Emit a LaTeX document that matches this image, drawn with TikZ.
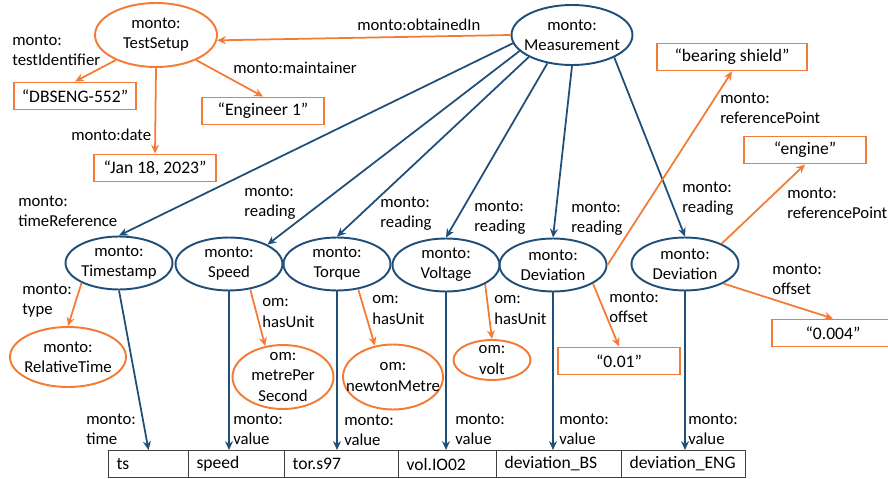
\documentclass[tikz,border=0pt]{standalone}
\usepackage{fontspec}
\setmainfont{Carlito}
\usetikzlibrary{shapes.geometric,arrows.meta}
\definecolor{navy}{HTML}{1F4E79}
\definecolor{orng}{HTML}{F47B35}
\tikzset{
  cls/.style={ellipse,draw=navy,line width=1.1pt,inner sep=-8pt,align=center,
    minimum width=2.14cm,minimum height=1.06cm},
  ocls/.style={ellipse,draw=orng,line width=1.1pt,inner sep=-8pt,align=center},
  lit/.style={rectangle,draw=orng,line width=1.1pt,minimum width=2.44cm,
    minimum height=0.54cm,inner sep=0pt,font=\fontsize{10}{12}\selectfont},
  lbl/.style={anchor=west,align=left,inner sep=0pt},
  cell/.style={rectangle,draw=black!75,line width=0.6pt,anchor=west,
    minimum height=0.54cm,inner ysep=0pt,inner xsep=0.16cm,align=left,
    font=\fontsize{10}{12}\selectfont},
  rel/.style={draw=navy,line width=1pt,-{Stealth[length=5pt,width=4.5pt]}},
  orel/.style={draw=orng,line width=1pt,-{Stealth[length=5pt,width=4.5pt]}}
}
\begin{document}
\begin{tikzpicture}[x=0.02cm,y=-0.02cm,font=\fontsize{9.5}{11.4}\selectfont]
  \useasboundingbox (0,0) rectangle (888,479);
  % classes and literals
  \node[ocls,minimum width=2.44cm,minimum height=1.28cm] (setup) at (156,35) {monto:\\TestSetup};
  \node[cls,minimum width=2.42cm,minimum height=1.2cm] (meas) at (572,35) {monto:\\Measurement};
  \node[lit] (testid) at (75,96) {“DBSENG-552”};
  \node[lit] (maint) at (263,111) {“Engineer 1”};
  \node[lit] (date) at (155,168) {“Jan 18, 2023”};
  \node[lit,minimum width=3cm] (bshield) at (732,57) {“bearing shield”};
  \node[lit] (engine) at (805,150) {“engine”};
  \node[cls] (tstamp) at (119,263) {monto:\\Timestamp};
  \node[cls] (speed) at (229,264) {monto:\\Speed};
  \node[cls] (torque) at (337,264) {monto:\\Torque};
  \node[cls] (voltage) at (446,265) {monto:\\Voltage};
  \node[cls] (devbs) at (553,265) {monto:\\Deviation};
  \node[cls] (deveng) at (685,264) {monto:\\Deviation};
  \node[ocls,minimum width=2.32cm,minimum height=1.2cm] (reltime) at (68,357) {monto:\\RelativeTime};
  \node[ocls,minimum width=2.02cm,minimum height=1.28cm] (mps) at (283,377) {om:\\metrePer\\Second};
  \node[ocls,minimum width=2cm,minimum height=1.3cm] (nm) at (393,377) {om:\\newtonMetre};
  \node[ocls,minimum width=1.54cm,minimum height=0.8cm] (volt) at (492,360) {om:\\volt};
  \node[lit] (offbs) at (619,361) {“0.01”};
  \node[lit] (offeng) at (833,333) {“0.004”};
  % table
  \node[cell,minimum width=1.6cm,text width=1.28cm] (tscol) at (108,464) {ts};
  \node[cell,minimum width=1.92cm,text width=1.6cm] (speedcol) at (188,464) {speed};
  \node[cell,minimum width=2.28cm,text width=1.96cm] (torcol) at (284,464) {tor.s97};
  \node[cell,minimum width=1.96cm,text width=1.64cm] (voltcol) at (398,464) {vol.IO02};
  \node[cell,minimum width=2.5cm,text width=2.18cm] (bscol) at (496,464) {deviation\_BS};
  \node[cell,minimum width=2.48cm,text width=2.16cm] (engcol) at (621,464) {deviation\_ENG};
  % edge labels
  \node[lbl] (lobt) at (357,25) {monto:obtainedIn};
  \node[lbl] (ltid) at (12,50) {monto:\\testIdentifier};
  \node[lbl] (lmaint) at (233,68) {monto:maintainer};
  \node[lbl] (ldate) at (71,135) {monto:date};
  \node[lbl] (lref1) at (720,108) {monto:\\referencePoint};
  \node[lbl] (lref2) at (787,203) {monto:\\referencePoint};
  \node[lbl] (ltref) at (18,211) {monto:\\timeReference};
  \node[lbl] (lrd1) at (244,203) {monto:\\reading};
  \node[lbl] (lrd2) at (380,214) {monto:\\reading};
  \node[lbl] (lrd3) at (474,218) {monto:\\reading};
  \node[lbl] (lrd4) at (571,219) {monto:\\reading};
  \node[lbl] (lrd5) at (682,199) {monto:\\reading};
  \node[lbl] (ltype) at (22,301) {monto:\\type};
  \node[lbl] (lunit1) at (262,313) {om:\\hasUnit};
  \node[lbl] (lunit2) at (372,310) {om:\\hasUnit};
  \node[lbl] (lunit3) at (494,310) {om:\\hasUnit};
  \node[lbl] (loff1) at (609,307) {monto:\\offset};
  \node[lbl] (loff2) at (772,279) {monto:\\offset};
  \node[lbl] (ltime) at (86,429) {monto:\\time};
  \node[lbl] (lval1) at (233,429) {monto:\\value};
  \node[lbl] (lval2) at (344,430) {monto:\\value};
  \node[lbl] (lval3) at (455,429) {monto:\\value};
  \node[lbl] (lval4) at (559,429) {monto:\\value};
  \node[lbl] (lval5) at (688,429) {monto:\\value};
  % relations
  \draw[orel] (meas.west) -- (setup.355);
  \draw[orel] (setup.212) -- (testid.north);
  \draw[orel] (setup.328) -- (maint.north);
  \draw[orel] (setup.south) -- (date.north);
  \draw[rel] (meas.188) -- (tstamp.north);
  \draw[rel] (meas.197) -- (speed.north east);
  \draw[rel] (meas.207) -- (torque.north);
  \draw[rel] (meas.229) -- (voltage.north);
  \draw[rel] (meas.270) -- (devbs.north);
  \draw[rel] (meas.332) -- (deveng.north);
  \draw[orel] (tstamp.208) -- (reltime.north);
  \draw[orel] (speed.310) -- (mps.120);
  \draw[orel] (torque.310) -- (nm.120);
  \draw[orel] (voltage.-26) -- (volt.north);
  \draw[orel] (devbs.east) -- (bshield.south);
  \draw[orel] (devbs.335) -- (offbs.north);
  \draw[orel] (deveng.29) -- (engine.south);
  \draw[orel] (deveng.333) -- (offeng.north);
  % values
  \draw[rel] (tstamp.south) -- (tscol.north);
  \draw[rel] (speed.south) -- (speed.south |- speedcol.north);
  \draw[rel] (torque.south) -- (torque.south |- torcol.north);
  \draw[rel] (voltage.south) -- (voltage.south |- voltcol.north);
  \draw[rel] (devbs.south) -- (devbs.south |- bscol.north);
  \draw[rel] (deveng.south) -- (deveng.south |- engcol.north);
\end{tikzpicture}
\end{document}
